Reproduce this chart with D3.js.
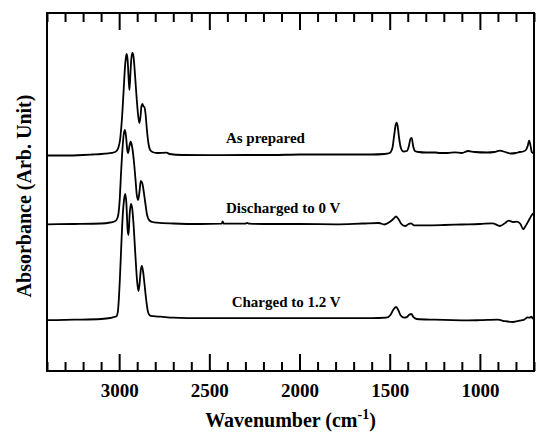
<!DOCTYPE html>
<html>
<head>
<meta charset="utf-8">
<script src="https://cdn.jsdelivr.net/npm/d3@7"></script>
<style>
  html, body { margin: 0; padding: 0; background: #fff; }
  svg { display: block; }
  text { font-family: "Liberation Serif", "Times New Roman", serif; font-weight: bold; fill: #000; }
</style>
</head>
<body>
<svg id="chart" width="536" height="432"></svg>
<script>
// spectra: [wavenumber (cm-1), absorbance above its own baseline]
const asPrepared = [
  [3400, -0.005], [3300, -0.005], [3200, 0], [3150, 0.005], [3100, 0.01], [3060, 0.017],
  [3030, 0.025], [3015, 0.04], [3005, 0.07], [2995, 0.15], [2985, 0.35], [2975, 0.65],
  [2968, 0.87], [2962, 0.98], [2958, 1.01], [2953, 0.95], [2947, 0.75], [2943, 0.65],
  [2938, 0.8], [2932, 0.97], [2926, 1.02], [2920, 0.98], [2912, 0.8], [2903, 0.57],
  [2895, 0.40], [2888, 0.32], [2882, 0.38], [2876, 0.49], [2871, 0.51], [2865, 0.485],
  [2860, 0.48], [2853, 0.40], [2846, 0.25], [2838, 0.12], [2828, 0.05], [2815, 0.03],
  [2790, 0.02], [2737, 0.023], [2720, 0.01], [2650, 0], [2500, -0.002], [2300, 0],
  [2150, 0], [2000, 0.005], [1800, 0.005], [1600, 0.005], [1530, 0.01], [1500, 0.02],
  [1485, 0.07], [1475, 0.20], [1467, 0.30], [1462, 0.323], [1456, 0.29], [1448, 0.17],
  [1438, 0.07], [1425, 0.035], [1405, 0.04], [1395, 0.08], [1385, 0.16], [1378, 0.17],
  [1370, 0.09], [1360, 0.04], [1340, 0.03], [1300, 0.025], [1249, 0.025], [1220, 0.02],
  [1180, 0.02], [1138, 0.027], [1100, 0.02], [1065, 0.04], [1030, 0.03], [960, 0.025],
  [920, 0.03], [889, 0.043], [860, 0.03], [830, 0.015], [800, 0.02], [780, 0.03],
  [760, 0.035], [745, 0.05], [735, 0.09], [727, 0.143], [720, 0.10], [713, 0.033],
  [705, 0.02], [700, 0.03]
];

const discharged = [
  [3400, -0.003], [3250, 0], [3100, 0.005], [3050, 0.015], [3030, 0.023], [3015, 0.04],
  [3005, 0.09], [2997, 0.24], [2990, 0.49], [2982, 0.74], [2975, 0.89], [2968, 0.94],
  [2962, 0.88], [2955, 0.74], [2950, 0.71], [2943, 0.78], [2936, 0.823], [2930, 0.79],
  [2920, 0.66], [2910, 0.46], [2902, 0.29], [2895, 0.24], [2888, 0.31], [2880, 0.43],
  [2872, 0.41], [2865, 0.34], [2855, 0.21], [2845, 0.09], [2832, 0.035], [2815, 0.02],
  [2790, 0.013], [2700, 0.005], [2550, 0], [2432, 0.003], [2426, 0.025], [2420, 0.003],
  [2300, 0.004], [2291, 0.012], [2280, 0.003], [2200, 0], [2000, 0], [1800, -0.003],
  [1650, 0.005], [1560, 0.01], [1530, -0.005], [1500, 0.02], [1480, 0.05], [1465, 0.075],
  [1450, 0.045], [1435, 0], [1415, -0.02], [1395, 0], [1382, 0.007], [1365, -0.013],
  [1300, -0.013], [1200, -0.01], [1100, -0.005], [1000, 0], [930, 0.007], [889, -0.02],
  [860, 0.01], [840, 0.033], [815, 0.02], [795, 0.023], [775, 0], [760, -0.053],
  [750, -0.03], [740, 0], [725, 0.05], [712, 0.09], [700, 0.11]
];

const charged = [
  [3400, -0.012], [3250, -0.007], [3100, 0], [3050, 0.01], [3030, 0.02], [3015, 0.028],
  [3008, 0.063], [3002, 0.19], [2995, 0.44], [2988, 0.74], [2980, 1.04], [2973, 1.19],
  [2966, 1.25], [2960, 1.16], [2953, 0.89], [2948, 0.84], [2942, 1.04], [2935, 1.15],
  [2928, 1.11], [2920, 0.94], [2910, 0.64], [2900, 0.37], [2893, 0.28], [2887, 0.35],
  [2880, 0.49], [2874, 0.53], [2867, 0.47], [2860, 0.36], [2850, 0.19], [2840, 0.07],
  [2828, 0.033], [2810, 0.028], [2770, 0.023], [2700, 0.013], [2550, 0.008], [2400, 0.008],
  [2200, 0.008], [2000, 0.008], [1800, 0.008], [1600, 0.008], [1520, 0.013], [1495, 0.043],
  [1480, 0.093], [1465, 0.12], [1452, 0.088], [1440, 0.038], [1420, 0.013], [1405, 0.018],
  [1392, 0.043], [1380, 0.05], [1368, 0.018], [1350, 0], [1250, -0.007], [1150, -0.012],
  [1065, -0.014], [1000, -0.012], [900, -0.007], [860, -0.022], [815, -0.03], [780, -0.017],
  [755, -0.007], [735, 0.016], [725, 0.013], [715, 0.023], [705, 0.003], [700, 0.013]
];

// vertical stacking offsets, arbitrary units
const offsets = [2.16, 1.47, 0.52];
const spectra = [asPrepared, discharged, charged];

const curveLabels = [
  { text: "As prepared", wn: 2408, a: 2.285 },
  { text: "Discharged to 0 V", wn: 2408, a: 1.577 },
  { text: "Charged to 1.2 V", wn: 2376, a: 0.637 }
];

const majorTicks = [3000, 2500, 2000, 1500, 1000];
const minorTicks = d3.range(3400, 699, -100).filter(d => !majorTicks.includes(d));

const svg = d3.select("#chart");
const margin = { left: 47, right: 2, top: 13, bottom: 61 };
const width = 536 - margin.left - margin.right;
const height = 432 - margin.top - margin.bottom;

const x = d3.scaleLinear().domain([3400, 700]).range([0, width]);
const y = d3.scaleLinear().domain([0, 3.58]).range([height, 0]);

const g = svg.append("g").attr("transform", `translate(${margin.left},${margin.top})`);

const line = d3.line()
  .x(d => x(d[0]))
  .y(d => y(d[1]))
  .curve(d3.curveMonotoneX);

spectra.forEach((s, i) => {
  g.append("path")
    .datum(s.map(d => [d[0], d[1] + offsets[i]]))
    .attr("fill", "none")
    .attr("stroke", "#000")
    .attr("stroke-width", 1.8)
    .attr("stroke-linejoin", "round")
    .attr("d", line);
});

// ticks, pointing inward on bottom and top
function tickAxis(axis, values, size, fmt) {
  return axis(x).tickValues(values).tickSize(-size).tickFormat(fmt || "");
}

const bottomAxis = g.append("g").attr("transform", `translate(0,${height})`);
bottomAxis.append("g").call(tickAxis(d3.axisBottom, minorTicks, 9));
bottomAxis.append("g").call(tickAxis(d3.axisBottom, majorTicks, 17, d3.format("d")).tickPadding(13));

const topAxis = g.append("g");
topAxis.append("g").call(tickAxis(d3.axisTop, minorTicks, 9));
topAxis.append("g").call(tickAxis(d3.axisTop, majorTicks, 17));

g.selectAll(".domain").remove();
g.selectAll(".tick line").attr("stroke", "#000").attr("stroke-width", 2);
bottomAxis.selectAll(".tick text")
  .style("font-size", "19px")
  .style("font-family", "'Liberation Serif', serif")
  .style("font-weight", "bold")
  .attr("fill", "#000");

g.append("rect")
  .attr("width", width)
  .attr("height", height)
  .attr("fill", "none")
  .attr("stroke", "#000")
  .attr("stroke-width", 2);

g.selectAll(".curve-label")
  .data(curveLabels)
  .join("text")
  .attr("class", "curve-label")
  .attr("x", d => x(d.wn))
  .attr("y", d => y(d.a))
  .style("font-size", "15px")
  .text(d => d.text);

// axis titles
const xt = svg.append("text")
  .attr("x", margin.left + width / 2)
  .attr("y", 427)
  .attr("text-anchor", "middle")
  .style("font-size", "20px");
xt.append("tspan").text("Wavenumber (cm");
xt.append("tspan").attr("dy", -8).style("font-size", "14px").text("-1");
xt.append("tspan").attr("dy", 8).text(")");

svg.append("text")
  .attr("transform", `translate(31,${margin.top + height / 2 + 4}) rotate(-90)`)
  .attr("text-anchor", "middle")
  .style("font-size", "20px")
  .text("Absorbance (Arb. Unit)");
</script>
</body>
</html>
